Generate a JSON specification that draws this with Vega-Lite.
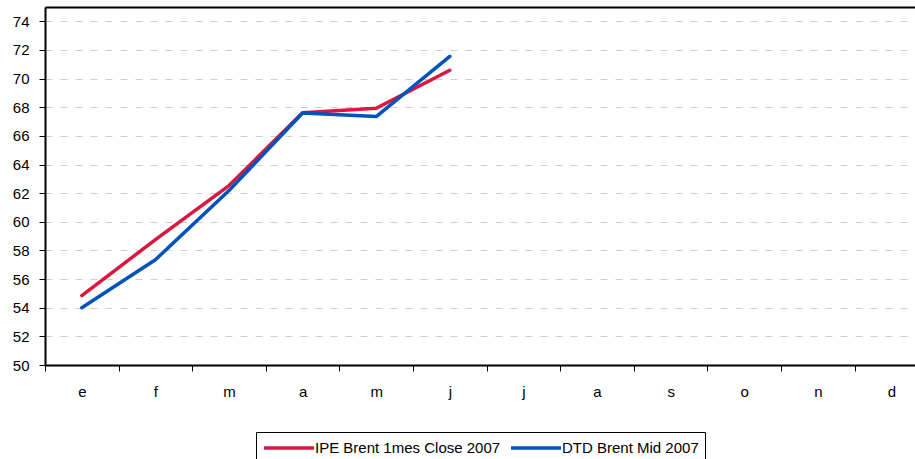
{
  "$schema": "https://vega.github.io/schema/vega-lite/v6.json",
  "autosize": {"type": "none"},
  "width": 870,
  "height": 358,
  "padding": {"left": 45, "top": 7, "right": 0, "bottom": 94},
  "background": "white",
  "config": {
    "view": {"stroke": null},
    "font": "Liberation Sans"
  },
  "data": {
    "values": [
      {"mes": 0, "serie": "IPE Brent 1mes Close 2007", "valor": 54.85},
      {"mes": 1, "serie": "IPE Brent 1mes Close 2007", "valor": 58.75},
      {"mes": 2, "serie": "IPE Brent 1mes Close 2007", "valor": 62.53},
      {"mes": 3, "serie": "IPE Brent 1mes Close 2007", "valor": 67.62},
      {"mes": 4, "serie": "IPE Brent 1mes Close 2007", "valor": 67.93},
      {"mes": 5, "serie": "IPE Brent 1mes Close 2007", "valor": 70.58},
      {"mes": 0, "serie": "DTD Brent Mid 2007", "valor": 54.0},
      {"mes": 1, "serie": "DTD Brent Mid 2007", "valor": 57.35},
      {"mes": 2, "serie": "DTD Brent Mid 2007", "valor": 62.18},
      {"mes": 3, "serie": "DTD Brent Mid 2007", "valor": 67.6},
      {"mes": 4, "serie": "DTD Brent Mid 2007", "valor": 67.35},
      {"mes": 5, "serie": "DTD Brent Mid 2007", "valor": 71.55}
    ]
  },
  "layer": [
    {
      "mark": {"type": "line", "strokeWidth": 3.5, "strokeJoin": "round", "strokeCap": "round"},
      "encoding": {
        "x": {
          "field": "mes", "type": "quantitative",
          "scale": {"domain": [-0.5, 11.32], "nice": false, "zero": false},
          "axis": {
            "orient": "bottom",
            "title": null,
            "values": [-0.5, 0.5, 1.5, 2.5, 3.5, 4.5, 5.5, 6.5, 7.5, 8.5, 9.5, 10.5],
            "labelExpr": "['e','f','m','a','m','j','j','a','s','o','n','d'][round(datum.value + 0.5)]",
            "labelFont": "Liberation Sans",
            "labelFontSize": 15,
            "labelColor": "black",
            "labelOffset": 36.8,
            "labelPadding": 13,
            "labelOverlap": false,
            "labelFlush": false,
            "labelBound": false,
            "tickSize": 6,
            "tickColor": "black",
            "tickWidth": 1,
            "domainColor": "black",
            "domainWidth": 2,
            "grid": false
          }
        },
        "y": {
          "field": "valor", "type": "quantitative",
          "scale": {"domain": [50, 75], "nice": false, "zero": false},
          "axis": {
            "title": null,
            "values": [50, 52, 54, 56, 58, 60, 62, 64, 66, 68, 70, 72, 74],
            "labelFont": "Liberation Sans",
            "labelFontSize": 15,
            "labelColor": "black",
            "labelOverlap": false,
            "labelBound": false,
            "labelFlush": false,
            "tickSize": 6,
            "tickColor": "black",
            "tickWidth": 1,
            "labelPadding": 10,
            "domainColor": "black",
            "domainWidth": 2,
            "grid": true,
            "gridColor": "#C8D0D0",
            "gridDash": [7, 8],
            "gridWidth": 1
          }
        },
        "color": {
          "field": "serie", "type": "nominal",
          "scale": {"domain": ["IPE Brent 1mes Close 2007", "DTD Brent Mid 2007"], "range": ["#D9173F", "#0053BA"]},
          "legend": {
            "title": null,
            "orient": "none",
            "legendX": 211,
            "legendY": 425,
            "direction": "horizontal",
            "symbolType": "M-3.125,0H3.125",
            "symbolSize": 256,
            "symbolStrokeWidth": 3.5,
            "symbolOffset": 17,
            "labelFont": "Liberation Sans",
            "labelFontSize": 15,
            "labelColor": "black",
            "labelOffset": 16,
            "columnPadding": 3,
            "strokeColor": "black",
            "padding": 6,
            "fillColor": "white",
            "labelLimit": 400
          }
        }
      }
    },
    {
      "mark": {"type": "line", "opacity": 0},
      "encoding": {
        "x": {
          "field": "mes", "type": "quantitative",
          "axis": {"orient": "top", "title": null, "labels": false, "ticks": false, "grid": false, "domainColor": "black", "domainWidth": 2}
        }
      }
    }
  ],
  "resolve": {"axis": {"x": "independent"}}
}
